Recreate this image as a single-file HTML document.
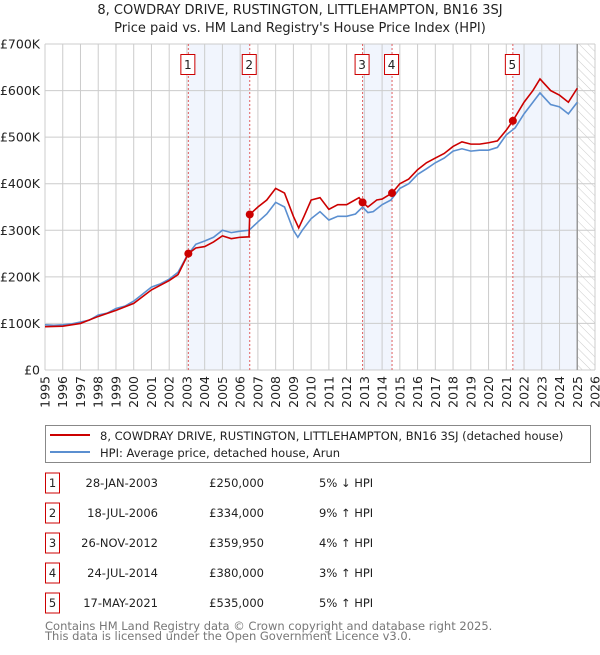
<!DOCTYPE html>
<html><head><meta charset="utf-8"><style>
body{margin:0;background:#fff;width:600px;height:650px;overflow:hidden;font-family:"Liberation Sans","DejaVu Sans",sans-serif}
svg text{font-family:"DejaVu Sans","Liberation Sans",sans-serif}
</style></head><body>
<svg id="c" width="600" height="650" xmlns="http://www.w3.org/2000/svg">
<defs><pattern id="hatch" width="6" height="6" patternUnits="userSpaceOnUse" patternTransform="rotate(-45)"><line x1="0" y1="0" x2="0" y2="6" stroke="#ccc" stroke-width="1"/></pattern></defs>
<text x="300" y="14" text-anchor="middle" font-size="13" fill="#222">8, COWDRAY DRIVE, RUSTINGTON, LITTLEHAMPTON, BN16 3SJ</text>
<text x="300" y="32" text-anchor="middle" font-size="13" fill="#222">Price paid vs. HM Land Registry's House Price Index (HPI)</text>
<g id="plot"></g>
<rect x="45.5" y="425.5" width="545" height="37" fill="#fff" stroke="#888"/>
<line x1="50" y1="435" x2="90" y2="435" stroke="#cc0000" stroke-width="2"/>
<text x="100" y="440" font-size="11.5" fill="#222">8, COWDRAY DRIVE, RUSTINGTON, LITTLEHAMPTON, BN16 3SJ (detached house)</text>
<line x1="50" y1="452" x2="90" y2="452" stroke="#5b8fd0" stroke-width="2"/>
<text x="100" y="457" font-size="11.5" fill="#222">HPI: Average price, detached house, Arun</text>
<g id="table"></g>
<text x="45" y="630" font-size="11.5" fill="#777">Contains HM Land Registry data © Crown copyright and database right 2025.</text>
<text x="45" y="640" font-size="11.5" fill="#777">This data is licensed under the Open Government Licence v3.0.</text>
</svg>
<script>
const years=[1995,1996,1997,1998,1999,2000,2001,2002,2003,2004,2005,2006,2007,2008,2009,2010,2011,2012,2013,2014,2015,2016,2017,2018,2019,2020,2021,2022,2023,2024,2025,2026];
const yTicks=[0,100,200,300,400,500,600,700];
const yTickLabels=["£0","£100K","£200K","£300K","£400K","£500K","£600K","£700K"];
const hpiT=[1995,1995.5,1996,1996.5,1997,1997.5,1998,1998.5,1999,1999.5,2000,2000.5,2001,2001.5,2002,2002.5,2003,2003.5,2004,2004.5,2005,2005.5,2006,2006.5,2007,2007.5,2008,2008.5,2009,2009.25,2009.5,2010,2010.5,2011,2011.5,2012,2012.5,2012.9,2013.2,2013.5,2014,2014.5,2015,2015.5,2016,2016.5,2017,2017.5,2018,2018.5,2019,2019.5,2020,2020.5,2021,2021.5,2022,2022.5,2022.9,2023.5,2024,2024.5,2025];
const hpiV=[97,96,97,99,103,107,118,122,132,137,148,163,178,185,195,210,245,270,277,285,300,295,298,300,318,335,360,350,300,285,300,325,340,322,330,330,335,350,338,340,355,365,390,400,420,432,445,455,470,475,470,472,472,478,505,520,550,575,595,570,565,550,575];
const ppT=[1995,1996,1997,1998,1999,2000,2001,2002,2002.5,2003.08,2003.5,2004,2004.5,2005,2005.5,2006,2006.5,2006.54,2007,2007.5,2008,2008.5,2009,2009.3,2009.6,2010,2010.5,2011,2011.5,2012,2012.7,2012.9,2013.2,2013.7,2014,2014.56,2015,2015.5,2016,2016.5,2017,2017.5,2018,2018.5,2019,2019.5,2020,2020.5,2021,2021.37,2022,2022.5,2022.9,2023.5,2024,2024.5,2025];
const ppV=[93,94,100,115,128,143,172,192,205,250,262,265,275,288,282,285,286,334,350,365,390,380,330,305,330,365,370,345,355,355,370,360,350,365,367,380,400,410,430,445,455,465,480,490,485,485,488,492,515,535,575,600,625,600,590,575,605];
const saleT=[2003.08,2006.54,2012.9,2014.56,2021.37];
const saleV=[250,334,359.95,380,535];
const saleDates=["28-JAN-2003","18-JUL-2006","26-NOV-2012","24-JUL-2014","17-MAY-2021"];
const salePrices=["£250,000","£334,000","£359,950","£380,000","£535,000"];
const saleHpi=["5% ↓ HPI","9% ↑ HPI","4% ↑ HPI","3% ↑ HPI","5% ↑ HPI"];
const dataEnd=2025.0;

const X0=45,X1=595,Y0=370,Y1=44;
const x=t=>X0+(t-1995)/(2026-1995)*(X1-X0);
const y=v=>Y0-v/700*(Y0-Y1);
const NS="http://www.w3.org/2000/svg";
const plot=document.getElementById('plot');
function mk(tag,attrs,parent){const e=document.createElementNS(NS,tag);for(const k in attrs)e.setAttribute(k,attrs[k]);(parent||plot).appendChild(e);return e;}

// shading
const spans=[[saleT[0],saleT[1]],[saleT[2],saleT[3]],[saleT[4],dataEnd]];
spans.forEach((s,i)=>{const r=mk('rect',{x:x(s[0]),y:Y1,width:x(s[1])-x(s[0]),height:Y0-Y1,fill:'#eef3fc',opacity:0.8});

});
const h=mk('rect',{x:x(dataEnd),y:Y1,width:X1-x(dataEnd),height:Y0-Y1,fill:'url(#hatch)'});


// grid
years.forEach(t=>{const l=mk('line',{x1:x(t),x2:x(t),y1:Y1,y2:Y0,stroke:'#ccc','stroke-width':1});


const tx=mk('text',{x:0,y:0,'font-size':12.5,fill:'#222','text-anchor':'end',transform:`translate(${x(t)+4.5},${Y0+6}) rotate(-90)`});tx.textContent=t;

});
yTicks.forEach((v,i)=>{const l=mk('line',{x1:X0,x2:X1,y1:y(v),y2:y(v),stroke:'#ccc','stroke-width':1});


const tx=mk('text',{x:X0-5,y:y(v)+4.5,'font-size':12.5,fill:'#222','text-anchor':'end'});tx.textContent=yTickLabels[i];

});
const el=mk('line',{x1:x(dataEnd),x2:x(dataEnd),y1:Y1,y2:Y0,stroke:'#999','stroke-width':1.5});


// sale markers lines & labels
saleT.forEach((t,i)=>{const l=mk('line',{x1:x(t),x2:x(t),y1:Y1,y2:Y0,stroke:'#e06060','stroke-width':1,'stroke-dasharray':'2,2'});


const r=mk('rect',{x:x(t)-7.5,y:54.5,width:14,height:20,fill:'#fff',stroke:'#cc0000'});


const tx=mk('text',{x:x(t)-0.5,y:69,'font-size':12,fill:'#222','text-anchor':'middle'});tx.textContent=i+1;

});
// lines
const hp=mk('polyline',{points:hpiT.map((t,i)=>x(t)+','+y(hpiV[i])).join(' '),fill:'none',stroke:'#5b8fd0','stroke-width':1.6});


const pp=mk('polyline',{points:ppT.map((t,i)=>x(t)+','+y(ppV[i])).join(' '),fill:'none',stroke:'#cc0000','stroke-width':1.6});


saleT.forEach((t,i)=>{const c=mk('circle',{cx:x(t),cy:y(saleV[i]),r:4,fill:'#cc0000'});

});
// table
const tb=document.getElementById('table');
saleT.forEach((t,i)=>{const cy=483+i*30;
const r=mk('rect',{x:45.5,y:cy-10,width:14,height:20,fill:'#fff',stroke:'#cc0000'},tb);


const a=mk('text',{x:52.5,y:cy+4,'font-size':11.5,fill:'#222','text-anchor':'middle'},tb);a.textContent=i+1;


const d=mk('text',{x:158,y:cy+4,'font-size':11.5,fill:'#222','text-anchor':'end'},tb);d.textContent=saleDates[i];


const p=mk('text',{x:264,y:cy+4,'font-size':11.5,fill:'#222','text-anchor':'end'},tb);p.textContent=salePrices[i];


const q=mk('text',{x:319,y:cy+4,'font-size':11.5,fill:'#222'},tb);q.textContent=saleHpi[i];

});
</script>
</body></html>
